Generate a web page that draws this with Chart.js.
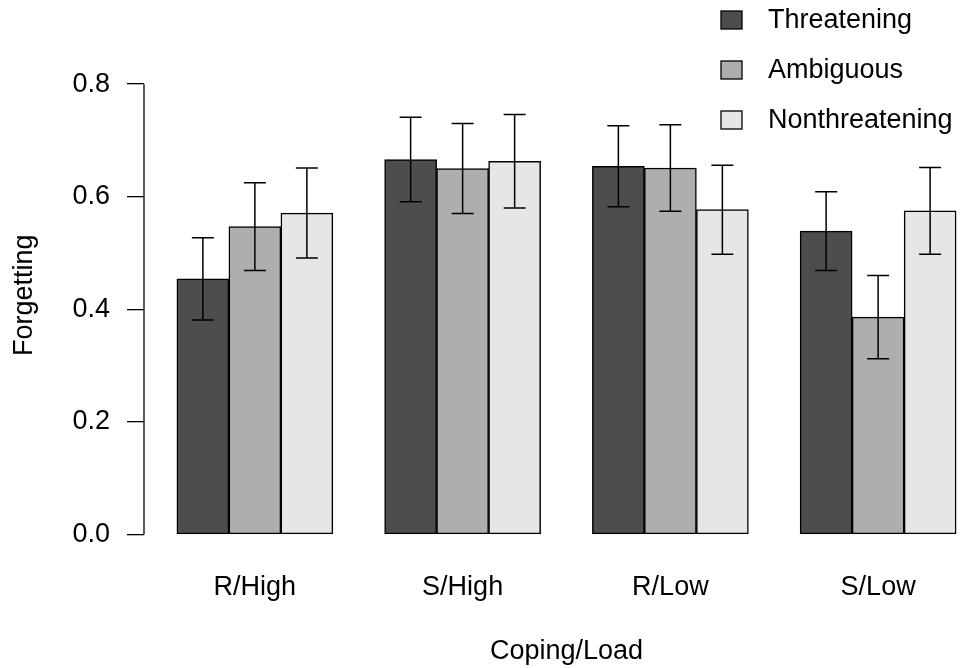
<!DOCTYPE html>
<html>
<head>
  <title>Forgetting by Coping/Load</title>
  <script src="https://cdn.jsdelivr.net/npm/chart.js@4/dist/chart.umd.min.js"></script>
  <style>
    body { margin: 0; overflow: hidden; background: #fff; }
  </style>
</head>
<body>
  <canvas id="barChart" width="989" height="668"></canvas>

  <script>
    // values
    var categories = ["R/High", "S/High", "R/Low", "S/Low"];
    var seriesNames = ["Threatening", "Ambiguous", "Nonthreatening"];
    var threatening = [0.454, 0.666, 0.654, 0.539];
    var ambiguous = [0.547, 0.650, 0.651, 0.386];
    var nonthreatening = [0.571, 0.663, 0.577, 0.575];
    // half length of the error bars
    var threateningErr = [0.073, 0.075, 0.072, 0.070];
    var ambiguousErr = [0.078, 0.080, 0.077, 0.074];
    var nonthreateningErr = [0.080, 0.083, 0.079, 0.077];
    var yTicks = [0, 0.2, 0.4, 0.6, 0.8];

    var FONT = "'Liberation Sans', Arial, Helvetica, sans-serif";
    var colors = ["#4D4D4D", "#AEAEAE", "#E6E6E6"];
    var allValues = [threatening, ambiguous, nonthreatening];
    var allErrs = [threateningErr, ambiguousErr, nonthreateningErr];

    function toPoints(values) {
      return values.map(function(v, i) { return { x: i + 1, y: v }; });
    }

    var datasets = seriesNames.map(function(name, k) {
      return {
        label: name,
        data: toPoints(allValues[k]),
        errors: allErrs[k],
        backgroundColor: colors[k],
        borderColor: "#000",
        borderWidth: 1.5,
        borderSkipped: false,
        barThickness: 52
      };
    });

    // error bars drawn on top of each bar
    var errorBars = {
      id: "errorBars",
      afterDatasetsDraw: function(chart) {
        var ctx = chart.ctx;
        var y = chart.scales.y;
        ctx.save();
        ctx.strokeStyle = "#000";
        ctx.lineWidth = 1.5;
        chart.data.datasets.forEach(function(ds, k) {
          var meta = chart.getDatasetMeta(k);
          meta.data.forEach(function(bar, i) {
            var v = ds.data[i].y, e = ds.errors[i];
            var top = y.getPixelForValue(v + e);
            var bot = y.getPixelForValue(v - e);
            ctx.beginPath();
            ctx.moveTo(bar.x, top); ctx.lineTo(bar.x, bot);
            ctx.moveTo(bar.x - 11, top); ctx.lineTo(bar.x + 11, top);
            ctx.moveTo(bar.x - 11, bot); ctx.lineTo(bar.x + 11, bot);
            ctx.stroke();
          });
        });
        ctx.restore();
      }
    };

    // R style axis line from first to last tick, plus the legend box
    var extras = {
      id: "extras",
      afterDraw: function(chart) {
        var ctx = chart.ctx;
        var y = chart.scales.y;
        var left = chart.chartArea.left;
        ctx.save();
        ctx.strokeStyle = "#000";
        ctx.lineWidth = 1.3;
        ctx.beginPath();
        ctx.moveTo(left, y.getPixelForValue(yTicks[0]));
        ctx.lineTo(left, y.getPixelForValue(yTicks[yTicks.length - 1]));
        ctx.stroke();

        var lx = chart.chartArea.right - 268;
        ctx.font = "27px " + FONT;
        ctx.textBaseline = "middle";
        ctx.textAlign = "left";
        chart.data.datasets.forEach(function(ds, k) {
          var cy = 20 + k * 50;
          ctx.fillStyle = ds.backgroundColor;
          ctx.fillRect(lx, cy - 9, 21, 18);
          ctx.strokeRect(lx, cy - 9, 21, 18);
          ctx.fillStyle = "#000";
          ctx.fillText(ds.label, lx + 47, cy + 1);
        });
        ctx.restore();
      }
    };

    var ctx = document.getElementById("barChart").getContext("2d");
    new Chart(ctx, {
      type: "bar",
      data: { datasets: datasets },
      options: {
        responsive: false,
        animation: false,
        layout: { padding: { top: 56, right: 0, left: 0, bottom: 0 } },
        plugins: {
          legend: { display: false },
          tooltip: { enabled: false }
        },
        scales: {
          x: {
            type: "linear",
            offset: false,
            min: 0.4663,
            max: 4.5337,
            grid: { display: false, offset: false },
            border: { display: false },
            afterBuildTicks: function(scale) {
              scale.ticks = categories.map(function(c, i) { return { value: i + 1 }; });
            },
            afterFit: function(scale) { scale.height = 133.5; },
            ticks: {
              padding: 29,
              maxRotation: 0,
              color: "#000",
              font: { family: FONT, size: 27 },
              callback: function(value) { return categories[value - 1]; }
            },
            title: {
              display: true,
              text: "Coping/Load",
              color: "#000",
              font: { family: FONT, size: 27 },
              padding: { top: 0, bottom: 0 }
            }
          },
          y: {
            min: 0,
            max: 0.85,
            border: { display: false },
            grid: {
              drawOnChartArea: false,
              drawTicks: true,
              tickLength: 17,
              color: "#000",
              lineWidth: 1.3
            },
            afterBuildTicks: function(scale) {
              scale.ticks = yTicks.map(function(v) { return { value: v }; });
            },
            afterFit: function(scale) { scale.width = 144; },
            ticks: {
              padding: 17,
              color: "#000",
              font: { family: FONT, size: 27 },
              callback: function(value) { return value.toFixed(1); }
            },
            title: {
              display: true,
              text: "Forgetting",
              color: "#000",
              font: { family: FONT, size: 27 },
              padding: { top: 8, bottom: 0 }
            }
          }
        }
      },
      plugins: [errorBars, extras]
    });
  </script>
</body>
</html>
